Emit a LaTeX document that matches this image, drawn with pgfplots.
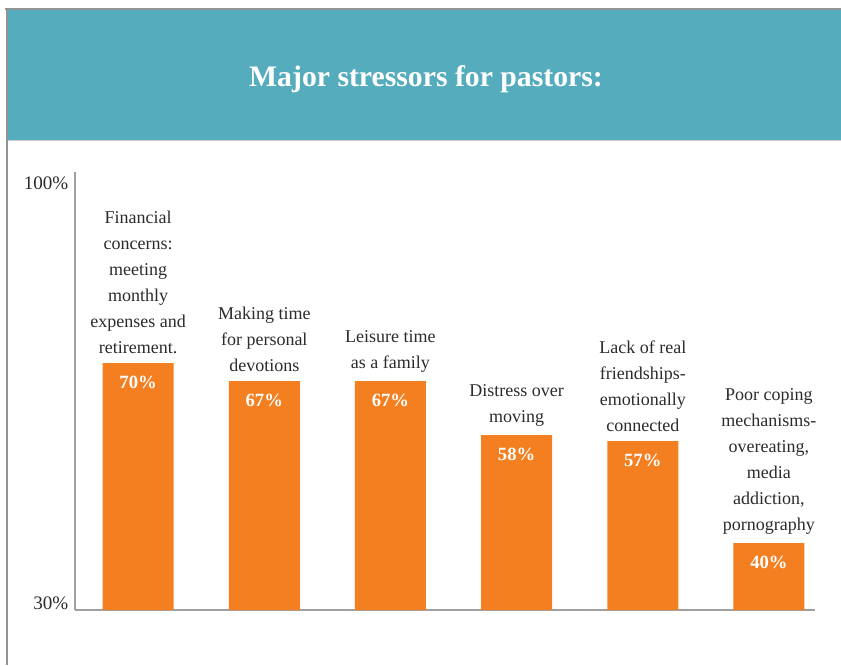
\documentclass[border=0pt]{standalone}
\usepackage{fontspec}
\setmainfont{Liberation Serif}
\usepackage{pgfplots}
\pgfplotsset{compat=1.18}
\definecolor{bandteal}{HTML}{55ACBC}
\definecolor{barorange}{HTML}{F47F20}
\definecolor{axisgray}{HTML}{A0A0A0}
\definecolor{framegray}{HTML}{939393}
\definecolor{textgray}{HTML}{2B2B2B}
\begin{document}
\begin{tikzpicture}[x=0.75pt,y=0.75pt]
\useasboundingbox (0,0) rectangle (841,665);
\fill[bandteal] (7,525) rectangle (841,655);
\draw[black!20, line width=0.8pt] (7,524.5) -- (841,524.5);
\draw[framegray, line width=1.6pt] (5,656) -- (841,656);
\draw[framegray, line width=1.8pt] (7,657) -- (7,0);
\node[white, font=\bfseries\fontsize{22.3}{26}\selectfont] at (426,586) {Major stressors for pastors:};
\begin{axis}[
  at={(56.25pt,41.25pt)}, anchor=south west,
  scale only axis, width=555pt, height=328.5pt,
  xmin=-0.5, xmax=5.365,
  ymin=28.833, ymax=101.833,
  axis x line*=bottom, axis y line*=left,
  axis line style={axisgray, line width=0.8pt, -},
  xtick=\empty,
  ytick={30,100}, yticklabels={30\%,100\%},
  major tick length=0pt,
  yticklabel style={font=\fontsize{14.3}{17}\selectfont, text=textgray, xshift=-1.5pt},
  ybar, bar width=53.25pt,
  nodes near coords={\pgfmathprintnumber[assume math mode=true]{\pgfplotspointmeta}\%},
  every node near coord/.append style={anchor=north, yshift=-9.5pt, inner sep=0pt, text=white, font=\bfseries\fontsize{14}{16}\selectfont},
]
\addplot[fill=barorange, draw=none] coordinates {(0,70) (1,67) (2,67) (3,58) (4,57) (5,40)};
\tikzset{catlab/.style={anchor=south, align=center, inner sep=0pt, yshift=6.5pt, text=textgray, font=\fontsize{13.5}{19.5}\selectfont}}
\node[catlab] at (axis cs:0,70) {Financial\\concerns:\\meeting\\monthly\\expenses and\\retirement.};
\node[catlab] at (axis cs:1,67) {Making time\\for personal\\devotions};
\node[catlab] at (axis cs:2,67) {Leisure time\\as a family};
\node[catlab] at (axis cs:3,58) {Distress over\\moving};
\node[catlab] at (axis cs:4,57) {Lack of real\\friendships-\\emotionally\\connected};
\node[catlab] at (axis cs:5,40) {Poor coping\\mechanisms-\\overeating,\\media\\addiction,\\pornography};
\end{axis}
\end{tikzpicture}
\end{document}
